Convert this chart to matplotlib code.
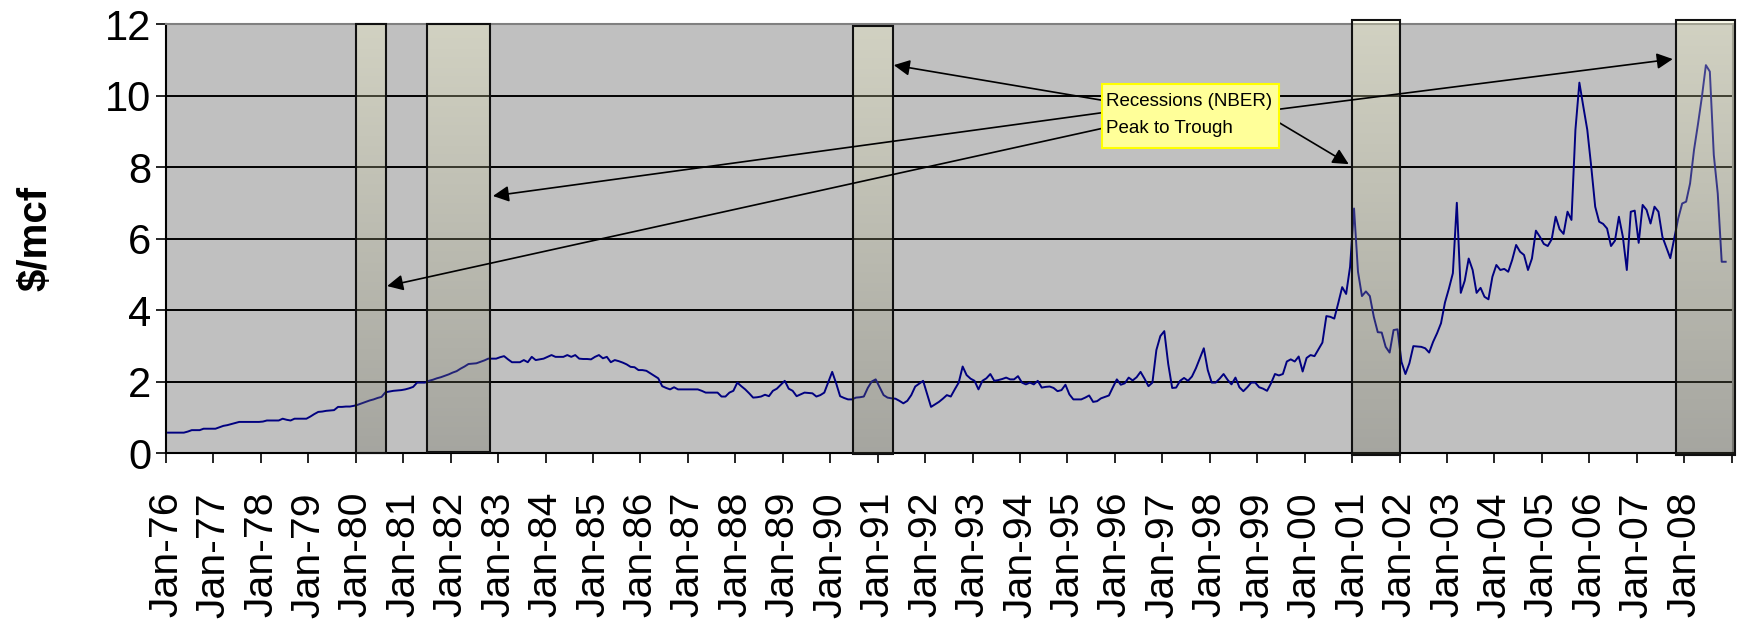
import numpy as np
import matplotlib
matplotlib.use('Agg')
import matplotlib.pyplot as plt
from matplotlib.patches import Rectangle
from matplotlib.colors import LinearSegmentedColormap

plt.rcParams['font.family'] = ['Liberation Sans', 'DejaVu Sans']

# monthly price, $/mcf, Jan 1976 - Nov 2008
p76_85 = [
    0.57, 0.57, 0.57, 0.57, 0.57, 0.60, 0.64, 0.64, 0.64, 0.68, 0.68, 0.68,
    0.68, 0.72, 0.76, 0.78, 0.81, 0.84, 0.87, 0.87, 0.87, 0.87, 0.87, 0.87,
    0.88, 0.91, 0.91, 0.91, 0.91, 0.96, 0.93, 0.91, 0.96, 0.96, 0.96, 0.96,
    1.02, 1.09, 1.15, 1.16, 1.18, 1.19, 1.20, 1.29, 1.29, 1.30, 1.30, 1.32,
    1.35, 1.39, 1.43, 1.47, 1.50, 1.54, 1.57, 1.70, 1.72, 1.74, 1.75, 1.76,
    1.78, 1.81, 1.85, 1.97, 1.97, 1.97, 2.02, 2.05, 2.09, 2.12, 2.16, 2.20,
    2.25, 2.29, 2.36, 2.42, 2.49, 2.50, 2.51, 2.55, 2.59, 2.64, 2.64, 2.64,
    2.68, 2.71, 2.62, 2.54, 2.54, 2.54, 2.60, 2.54, 2.69, 2.60, 2.62, 2.64,
    2.69, 2.74, 2.69, 2.69, 2.69, 2.74, 2.69, 2.74, 2.64, 2.63, 2.63, 2.62,
    2.69, 2.74, 2.65, 2.69, 2.54, 2.60, 2.57, 2.53, 2.48, 2.41, 2.40, 2.32]
p86_97 = [
    2.32, 2.30, 2.23, 2.16, 2.09, 1.87, 1.82, 1.78, 1.84, 1.78, 1.78, 1.78,
    1.78, 1.78, 1.78, 1.74, 1.69, 1.69, 1.69, 1.69, 1.58, 1.58, 1.69, 1.74,
    1.97, 1.87, 1.78, 1.67, 1.55, 1.56, 1.58, 1.63, 1.59, 1.74, 1.80, 1.91,
    2.02, 1.80, 1.74, 1.59, 1.64, 1.69, 1.68, 1.67, 1.58, 1.62, 1.69, 1.98,
    2.27, 1.95, 1.59, 1.54, 1.50, 1.50, 1.55, 1.56, 1.58, 1.82, 2.00, 2.06,
    1.84, 1.62, 1.55, 1.53, 1.52, 1.46, 1.39, 1.46, 1.62, 1.86, 1.94, 2.02,
    1.65, 1.29, 1.36, 1.43, 1.52, 1.62, 1.58, 1.78, 1.97, 2.42, 2.18, 2.08,
    2.02, 1.78, 2.02, 2.09, 2.21, 2.02, 2.04, 2.07, 2.11, 2.06, 2.06, 2.15,
    1.97, 1.92, 1.97, 1.92, 2.02, 1.83, 1.85, 1.86, 1.82, 1.73, 1.76, 1.91,
    1.64, 1.50, 1.50, 1.50, 1.55, 1.61, 1.43, 1.45, 1.53, 1.57, 1.61, 1.84,
    2.06, 1.91, 1.95, 2.11, 2.03, 2.12, 2.27, 2.08, 1.87, 1.97, 2.88, 3.27,
    3.41, 2.49, 1.82, 1.83, 2.02, 2.10, 2.02, 2.14, 2.37, 2.65, 2.93, 2.32]
p98_08 = [
    1.97, 1.97, 2.08, 2.21, 2.05, 1.92, 2.11, 1.84, 1.73, 1.84, 1.97, 1.97,
    1.84, 1.80, 1.74, 1.95, 2.21, 2.17, 2.21, 2.56, 2.62, 2.56, 2.70, 2.28,
    2.66, 2.74, 2.71, 2.90, 3.09, 3.83, 3.81, 3.76, 4.19, 4.64, 4.45, 5.21,
    6.84, 5.07, 4.39, 4.52, 4.39, 3.81, 3.38, 3.37, 2.97, 2.81, 3.44, 3.46,
    2.55, 2.21, 2.51, 2.99, 2.98, 2.97, 2.93, 2.81, 3.11, 3.35, 3.63, 4.21,
    4.60, 5.03, 7.00, 4.48, 4.82, 5.44, 5.12, 4.48, 4.62, 4.37, 4.30, 4.93,
    5.26, 5.12, 5.15, 5.07, 5.40, 5.82, 5.63, 5.54, 5.12, 5.44, 6.22, 6.05,
    5.85, 5.79, 5.98, 6.61, 6.26, 6.13, 6.75, 6.52, 9.04, 10.36, 9.69, 9.04,
    8.01, 6.89, 6.47, 6.41, 6.28, 5.79, 5.94, 6.61, 6.05, 5.12, 6.75, 6.78,
    5.88, 6.94, 6.80, 6.42, 6.89, 6.75, 6.05, 5.75, 5.45, 6.00, 6.56, 6.98,
    7.03, 7.54, 8.48, 9.20, 9.97, 10.85, 10.67, 8.34, 7.26, 5.35, 5.35]

# NBER recessions, peak to trough (decimal years)
rec_start = [1980.0, 1981.49, 1990.47, 2001.0, 2007.82]
rec_end = [1980.63, 1982.83, 1991.32, 2002.0, 2009.07]
# the boxes were drawn by hand, so their tops/bottoms wobble a bit
rec_top = [12.0, 12.0, 11.95, 12.1, 12.1]
rec_bot = [0.0, 0.04, -0.04, -0.06, -0.06]

years = list(range(1976, 2010))
year_labels = ['Jan-%02d' % (y % 100) for y in years[:-1]] + ['']

price = np.array(p76_85 + p86_97 + p98_08)
t = 1976 + (np.arange(len(price)) + 0.5) / 12

fig = plt.figure(figsize=(17.37, 6.24), dpi=100)
ax = fig.add_axes([0.0956, 0.274, 0.9021, 0.6875])
ax.set_facecolor('#c0c0c0')

ax.plot(t, price, color='#000080', lw=1.4, zorder=2)

cmap = LinearSegmentedColormap.from_list(
    'rec', [(0.38, 0.38, 0.30, 0.28), (1.0, 1.0, 0.78, 0.28)])
grad = np.linspace(0, 1, 256).reshape(-1, 1)
for x0, x1, b, tp in zip(rec_start, rec_end, rec_bot, rec_top):
    im = ax.imshow(grad, cmap=cmap, origin='lower', aspect='auto',
                   extent=[x0, x1, b, tp], zorder=3, interpolation='bilinear')
    im.set_clip_on(False)
    ax.add_patch(Rectangle((x0, b), x1 - x0, tp - b, fill=False,
                           ec='#111111', lw=1.5, zorder=4, clip_on=False))

# callout
tips = [(1991.34, 10.85), (1982.89, 7.19), (1980.66, 4.67),
        (2007.76, 11.02), (2000.93, 8.08)]
tails = [(1995.9, 9.83), (1995.9, 9.55), (1995.9, 9.13),
         (1999.3, 9.59), (1999.3, 9.37)]
for tip, tail in zip(tips, tails):
    ax.annotate('', xy=tip, xytext=tail,
                arrowprops=dict(arrowstyle='-|>', color='black', lw=1.2,
                                mutation_scale=24, shrinkA=0, shrinkB=0),
                zorder=5, annotation_clip=False)
ax.add_patch(Rectangle((1995.73, 8.53), 3.73, 1.79, fc='#ffff99',
                       ec='#ffff00', lw=1.5, zorder=6))
ax.text(1995.82, 9.82, 'Recessions (NBER)', fontsize=13.5, va='center',
        ha='left', zorder=7)
ax.text(1995.82, 9.08, 'Peak to Trough', fontsize=13.5, va='center',
        ha='left', zorder=7)

ax.set_xlim(1976, 2009.03)
ax.set_ylim(0, 12)
ax.set_yticks(range(0, 13, 2))
ax.set_xticks(years)
ax.set_xticklabels(year_labels, rotation=90)
ax.tick_params(axis='y', labelsize=30, direction='out', length=7,
               width=1.2, color='black')
ax.tick_params(axis='x', labelsize=29.5, direction='out', length=7,
               width=1.2, color='black', pad=21)
ax.set_ylabel('$/mcf', fontsize=29, fontweight='bold')
ax.yaxis.set_label_coords(-0.071, 0.5)
ax.grid(axis='y', color='black', lw=1.4)
ax.set_axisbelow(True)
for s in ['top', 'right']:
    ax.spines[s].set_color('#808080')
    ax.spines[s].set_linewidth(1.5)
for s in ['left', 'bottom']:
    ax.spines[s].set_color('black')
    ax.spines[s].set_linewidth(1.5)

fig.savefig('out.png', dpi=100)
